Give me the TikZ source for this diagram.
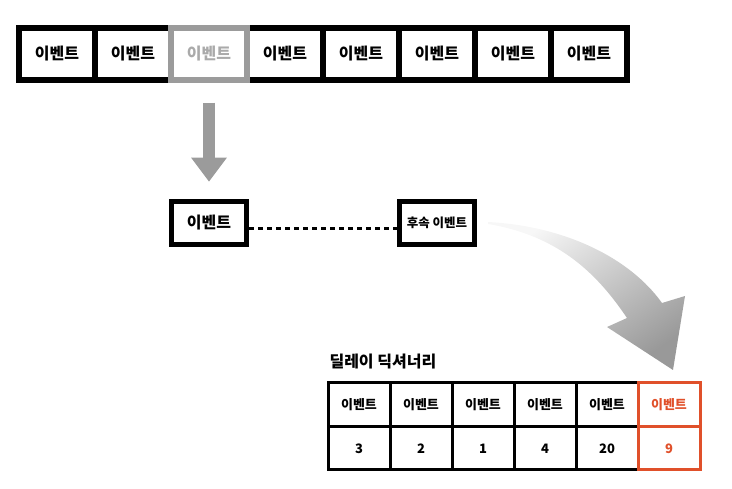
\documentclass[tikz,border=0pt]{standalone}
\usepackage{fontspec}
\setmainfont{Noto Sans CJK KR}
\usepackage{xcolor}
\usetikzlibrary{arrows.meta,positioning,calc}
\definecolor{dictred}{RGB}{224,80,42}
\definecolor{fadegray}{RGB}{155,155,155}

\begin{document}
\begin{tikzpicture}[
  x=1pt,y=-1pt,
  event/.style={draw,line width=5.5pt,minimum width=76pt,
    minimum height=52pt,inner sep=0pt,fill=white,
    font=\fontsize{16}{18}\selectfont\bfseries},
  midevent/.style={event,minimum width=75pt,minimum height=43pt},
  cell/.style={draw,line width=3pt,minimum width=62pt,inner sep=0pt,
    font=\fontsize{13}{15}\selectfont\bfseries},
  keycell/.style={cell,minimum height=44pt},
  valcell/.style={cell,minimum height=43pt},
  picked/.style={draw=dictred,text=dictred},
  dropflow/.style={-{Triangle[width=34pt,length=24pt]},line width=12pt,
    draw=fadegray},
  link/.style={line width=3pt,dash pattern=on 5pt off 4pt}
]
  \useasboundingbox (0,0) rectangle (732,489);

  % incoming events
  \node[event] (event-1) at (57,54) {이벤트};
  \node[event] (event-2) at (133,54) {이벤트};
  \node[event] (event-4) at (285,54) {이벤트};
  \node[event] (event-5) at (361,54) {이벤트};
  \node[event] (event-6) at (437,54) {이벤트};
  \node[event] (event-7) at (513,54) {이벤트};
  \node[event] (event-8) at (589,54) {이벤트};
  \node[event,draw=fadegray,text=fadegray!85] (event-3) at (209,54) {이벤트};

  % current event and its follower
  \node[midevent] (current) at (209,223) {이벤트};
  \node[midevent,font=\fontsize{12.5}{14}\selectfont\bfseries] (follower)
    at (437,223) {후속 이벤트};

  \draw[dropflow] ([yshift=-20pt]event-3.south) -- ([yshift=17pt]current.north);
  \draw[link] ([yshift=-6pt]current.east) -- ([yshift=-6pt]follower.west);

  % curved arrow into the dictionary
  \shade[top color=black!3,middle color=black!17,bottom color=black!40,
    shading angle=35]
    (488,222) .. controls (565,226) and (630,258) .. (662,303)
    -- (685,296) -- (673,370) -- (607,327) -- (627,318)
    .. controls (598,275) and (560,236) .. (488,224) -- cycle;

  % delay dictionary
  \node[anchor=west,font=\fontsize{16}{18}\selectfont\bfseries] (dict-title)
    at (326,362) {딜레이 딕셔너리};

  \node[keycell] (key-1) at (359,405) {이벤트};
  \node[keycell] (key-2) at (421,405) {이벤트};
  \node[keycell] (key-3) at (483,405) {이벤트};
  \node[keycell] (key-4) at (545,405) {이벤트};
  \node[keycell] (key-5) at (607,405) {이벤트};
  \node[valcell] (val-1) at (359,448.5) {3};
  \node[valcell] (val-2) at (421,448.5) {2};
  \node[valcell] (val-3) at (483,448.5) {1};
  \node[valcell] (val-4) at (545,448.5) {4};
  \node[valcell] (val-5) at (607,448.5) {20};
  \node[keycell,picked] (key-6) at (669,405) {이벤트};
  \node[valcell,picked] (val-6) at (669,448.5) {9};
\end{tikzpicture}
\end{document}
